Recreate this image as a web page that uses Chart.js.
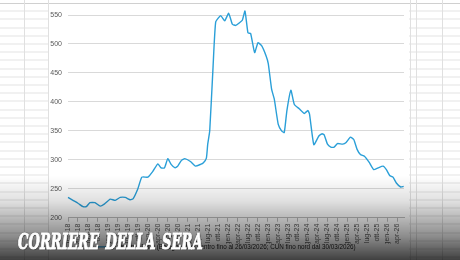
<!DOCTYPE html>
<html>
<head>
<meta charset="utf-8">
<script src="https://cdn.jsdelivr.net/npm/chart.js@4.4.1/dist/chart.umd.min.js"></script>
<style>
  html, body { margin: 0; width: 460px; height: 260px; overflow: hidden; }
  body {
    position: relative;
    background: #fff repeating-linear-gradient(to bottom, transparent 0, transparent 7.2px, #e3e3e3 7.2px, #e3e3e3 8.2px);
    background-position: 0 3.5px;
    font-family: "Liberation Sans", Arial, sans-serif;
  }
  .vl { position: absolute; top: 0; width: 1px; height: 260px; background: #e0e0e0; }
  #head { position: absolute; left: 0; top: 0; width: 460px; height: 3px; background: #fff; border-bottom: 1px solid #d0d0d0; }
  #box { position: absolute; left: 49px; top: 4px; width: 360px; height: 256px; background: #fff; }
  #shade {
    position: absolute; left: 0; top: 176px; width: 460px; height: 84px;
    background: linear-gradient(to bottom, rgba(0,0,0,0) 0%, rgba(0,0,0,0.12) 30%, rgba(0,0,0,0.45) 72%, rgba(0,0,0,0.75) 100%);
  }
  #mark {
    position: absolute; left: 18px; top: 227px; white-space: nowrap; word-spacing: 3px;
    font: italic 900 23px "DejaVu Serif Condensed", "DejaVu Serif", serif;
    color: #fff; transform-origin: 0 0;
    -webkit-text-stroke: 1px #fff;
    text-shadow: 0 0 2px rgba(0,0,0,0.7), 1px 1px 1px rgba(0,0,0,0.5);
  }
</style>
</head>
<body>
<div id="head"></div>
<div class="vl" style="left:24px"></div>
<div class="vl" style="left:48px"></div>
<div class="vl" style="left:410px"></div>
<div class="vl" style="left:416px"></div>
<div class="vl" style="left:442px"></div>
<div id="box"><canvas id="priceChart" width="360" height="256"></canvas></div>
<div id="shade"></div>
<div id="mark">CORRIERE DELLA SERA</div>
<script>
// Prezzo frumento duro (€/t), mesi contati da gennaio 2018
const months = [
  0, 1.5, 3, 4.5, 5.5, 6.6, 8.1, 9.7, 11, 12.7, 14.2, 15.7, 17.2, 18.7, 19.6,
  21, 22.2, 24, 25.5, 27, 28, 29, 30, 31, 32.2, 33, 34.1, 35.1, 36.8, 38.3,
  39.8, 40.7, 41.6, 42, 42.6, 43.6, 44.4, 45.9, 47.1, 48.3, 49.4, 50.4, 51.4,
  52.4, 53.2, 54.1, 54.9, 56.1, 57.1, 58.2, 59.5, 60.2, 61.2, 62, 63.2, 64.2,
  65, 65.8, 67, 68, 69.5, 71, 72.1, 72.6, 73.9, 75.4, 76.4, 77, 78, 79, 80,
  81, 82.6, 83.6, 84.9, 85.9, 86.9, 87.9, 89.1, 90.6, 91.9, 93.2, 94.7, 95.7,
  96.7, 97.7, 98.7, 100, 100.9
];
const prices = [
  235, 230, 225, 219, 219, 226, 226, 220, 224, 232, 230, 235, 235, 231, 233,
  250, 270, 270, 280, 293, 286, 286, 302, 292, 286, 289, 299, 302, 297, 289,
  292, 295, 303, 327, 350, 460, 538, 549, 540, 553, 534, 532, 536,
  541, 557, 519, 518, 485, 502, 497, 480, 466, 422, 405, 361, 350,
  347, 385, 420, 396, 388, 380, 385, 379, 326, 341, 345, 343, 327, 322, 322,
  328, 327, 330, 339, 335, 318, 309, 306, 295, 283, 286, 289, 283,
  273, 270, 260, 253, 254
];
const quarterLabels = [
  'gen-18', 'apr-18', 'lug-18', 'ott-18', 'gen-19', 'apr-19', 'lug-19', 'ott-19',
  'gen-20', 'apr-20', 'lug-20', 'ott-20', 'gen-21', 'apr-21', 'lug-21', 'ott-21',
  'gen-22', 'apr-22', 'lug-22', 'ott-22', 'gen-23', 'apr-23', 'lug-23', 'ott-23',
  'gen-24', 'apr-24', 'lug-24', 'ott-24', 'gen-25', 'apr-25', 'lug-25', 'ott-25',
  'gen-26', 'apr-26'
];
const seriesLabel = 'Frumento Duro (Bologna, fino centro fino al 26/03/2026; CUN fino nord dal 30/03/2026)';

const ctx = document.getElementById('priceChart').getContext('2d');
new Chart(ctx, {
  type: 'line',
  data: {
    datasets: [{
      label: seriesLabel,
      data: months.map((m, i) => ({ x: m, y: prices[i] })),
      borderColor: '#2a9fd8',
      backgroundColor: '#2a9fd8',
      borderWidth: 1.4,
      pointRadius: 0,
      tension: 0.15,
      clip: false,
    }],
  },
  options: {
    responsive: false,
    animation: false,
    layout: { padding: { top: 11, right: 5, left: 0, bottom: 0 } },
    plugins: {
      legend: {
        position: 'bottom',
        labels: {
          usePointStyle: true,
          pointStyle: 'line',
          pointStyleWidth: 12,
          boxHeight: 5,
          padding: 0,
          color: '#222222',
          font: { size: 6.3, family: 'Liberation Sans' },
        },
      },
      tooltip: { enabled: false },
    },
    scales: {
      x: {
        type: 'linear',
        min: 0,
        max: 101,
        afterBuildTicks: (axis) => {
          axis.ticks = quarterLabels.map((l, i) => ({ value: i * 3 }));
        },
        afterFit: (axis) => { axis.height = 26; },
        ticks: {
          callback: (v) => quarterLabels[Math.round(v / 3)],
          autoSkip: false,
          maxRotation: 90,
          minRotation: 90,
          padding: 2,
          color: '#595959',
          font: { size: 7, family: 'Liberation Sans' },
        },
        grid: { drawOnChartArea: false, tickLength: 4, color: '#bfbfbf' },
        border: { color: '#bfbfbf' },
      },
      y: {
        min: 200,
        max: 550,
        afterFit: (axis) => { axis.width = 19; },
        ticks: {
          stepSize: 50,
          padding: 6,
          color: '#595959',
          font: { size: 7, family: 'Liberation Sans' },
        },
        grid: { color: '#d9d9d9', drawTicks: false },
        border: { display: false },
      },
    },
  },
});

// adatta la scritta alla larghezza della testata
const mark = document.getElementById('mark');
mark.style.transform = 'scaleX(' + (185 / mark.scrollWidth) + ')';
</script>
</body>
</html>
